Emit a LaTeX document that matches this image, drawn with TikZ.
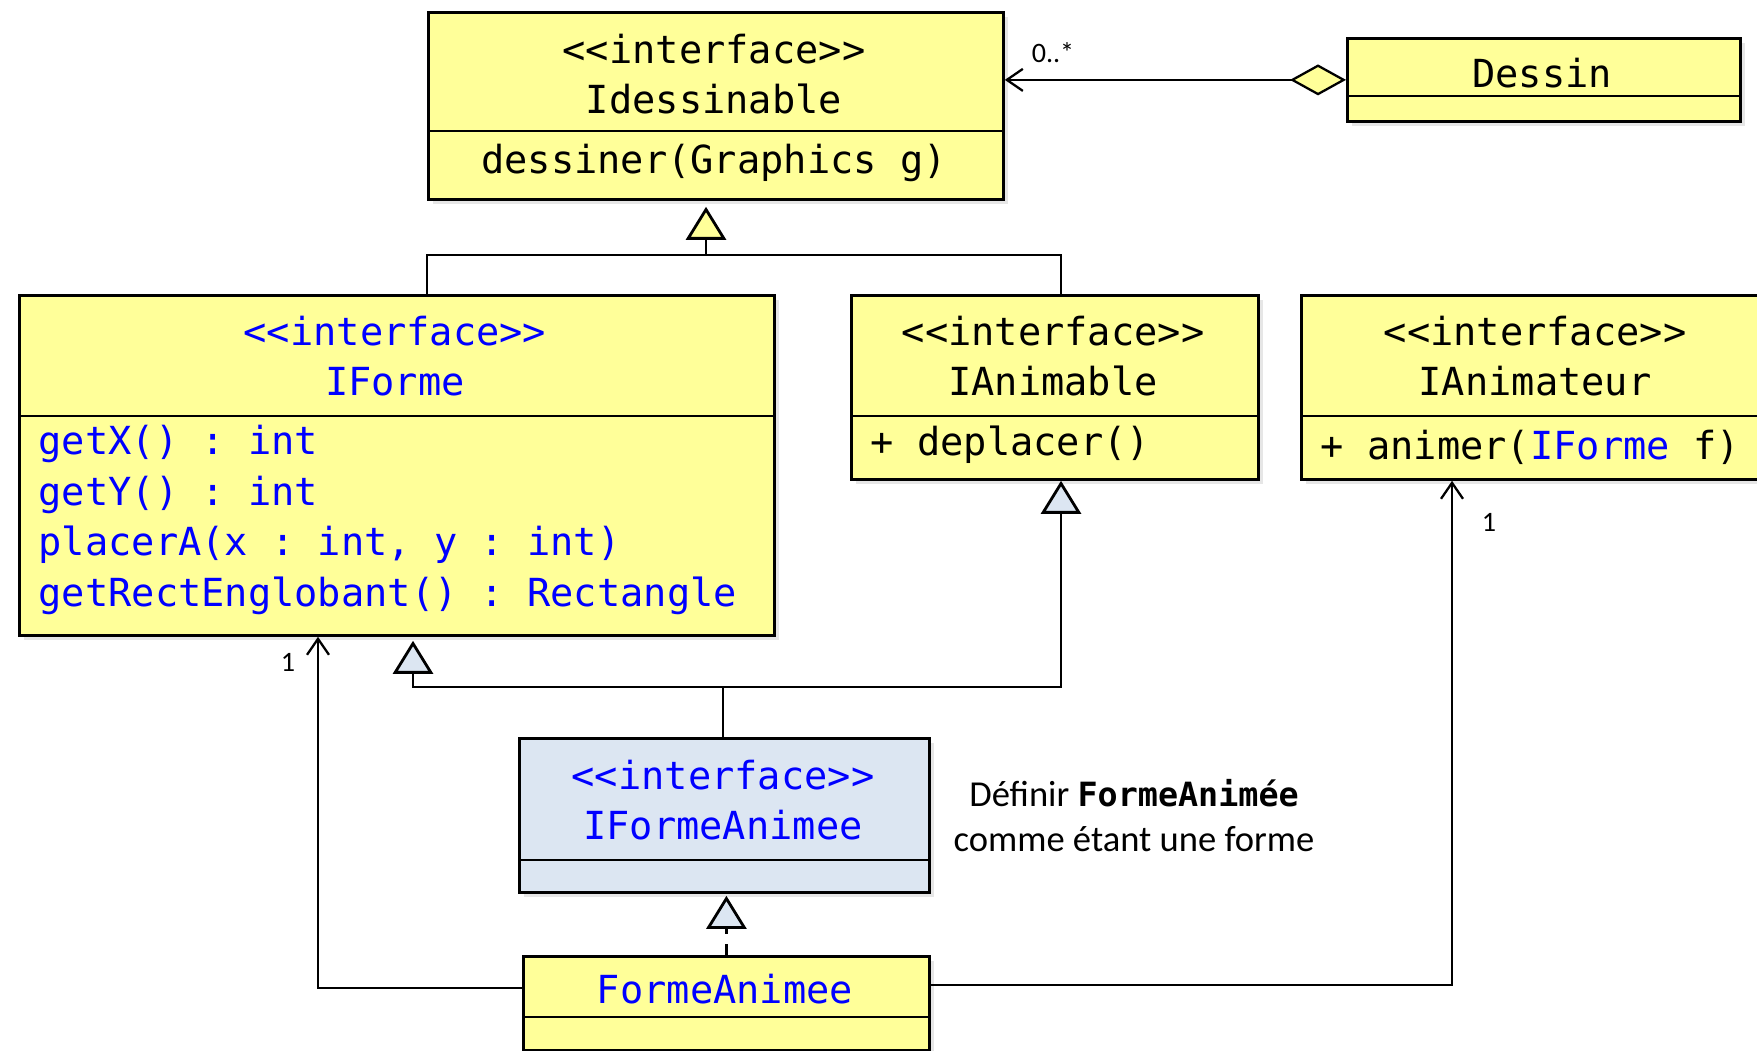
\documentclass[tikz,border=0pt]{standalone}
\usepackage{fontspec}
\setmainfont{Carlito}
\setmonofont{DejaVu Sans Mono}
\usetikzlibrary{arrows.meta,shadows}
\definecolor{jaune}{RGB}{255,255,153}
\definecolor{bleuclair}{RGB}{220,230,242}
\tikzset{
    classe/.style={draw, line width=0.8pt, fill=jaune, anchor=north west, inner sep=0pt,
        drop shadow={opacity=0.2, shadow xshift=0.5mm, shadow yshift=-0.5mm}},
    separe/.style={line width=0.8pt},
    code/.style={font=\fontsize{11}{14.4}\selectfont\ttfamily, inner sep=0pt},
    entete/.style={code, align=center},
    lien/.style={line width=0.65pt},
    herite/.style={lien, -{Triangle[length=3.3mm, width=4mm, line width=0.8pt, fill=#1]}},
    herite/.default=bleuclair,
    assoc/.style={lien, -{Straight Barb[length=1.6mm, width=2.2mm]}},
    agreg/.style={lien, {Diamond[fill=jaune, length=5.6mm, width=3.1mm]}-{Straight Barb[length=1.6mm, width=2.2mm]}},
    mult/.style={font=\fontsize{8}{9}\selectfont, inner sep=0pt},
    remarque/.style={align=center, font=\fontsize{10.4}{12.8}\selectfont, inner sep=0pt}
}
\begin{document}
\begin{tikzpicture}[x=0.1mm, y=-0.1mm]
        \useasboundingbox (0,0) rectangle (1757,1051);
        % Interface Idessinable
        \node[classe, minimum width=57.5mm, minimum height=18.7mm] (idess) at (427,11) {};
        \draw[separe] (427,131) -- (1002,131);
        \node[entete] (idess-nom) at (714,74) {<<interface>>\\Idessinable};
        \node[code] (idess-op) at (714,163) {dessiner(Graphics g)};
        % Classe Dessin
        \node[classe, minimum width=39.3mm, minimum height=8.3mm] (dessin) at (1346,37) {};
        \draw[separe] (1346,96) -- (1739,96);
        \node[code] (dessin-nom) at (1542,73) {Dessin};
        % Interface IForme
        \node[classe, minimum width=75.5mm, minimum height=34mm] (iforme) at (18,294) {};
        \draw[separe] (18,416) -- (773,416);
        \node[entete, text=blue] (iforme-nom) at (395,356) {<<interface>>\\IForme};
        \node[code, text=blue, align=left, anchor=west] (iforme-op) at (38,520)
            {getX() : int\\getY() : int\\placerA(x : int, y : int)\\getRectEnglobant() : Rectangle};
        % Interface IAnimable
        \node[classe, minimum width=40.7mm, minimum height=18.4mm] (ianim) at (850,294) {};
        \draw[separe] (850,416) -- (1257,416);
        \node[entete] (ianim-nom) at (1053,356) {<<interface>>\\IAnimable};
        \node[code, anchor=west] (ianim-op) at (870,445) {+ deplacer()};
        % Interface IAnimateur
        \node[classe, minimum width=47mm, minimum height=18.4mm] (ianimr) at (1300,294) {};
        \draw[separe] (1300,416) -- (1770,416);
        \node[entete] (ianimr-nom) at (1535,356) {<<interface>>\\IAnimateur};
        \node[code, anchor=west] (ianimr-op) at (1320,447) {+ animer(\textcolor{blue}{IForme} f)};
        % Interface IFormeAnimee
        \node[classe, fill=bleuclair, minimum width=41mm, minimum height=15.4mm] (ifa) at (518,737) {};
        \draw[separe] (518,860) -- (928,860);
        \node[entete, text=blue] (ifa-nom) at (723,800) {<<interface>>\\IFormeAnimee};
        % Classe FormeAnimee
        \node[classe, minimum width=40.6mm, minimum height=9.4mm] (fa) at (522,955) {};
        \draw[separe] (522,1017) -- (928,1017);
        \node[code, text=blue] (fa-nom) at (725,989) {FormeAnimee};
        % Commentaire
        \node[remarque] (note) at (1134,816) {Définir {\fontsize{9.5}{12.8}\selectfont\ttfamily\bfseries FormeAnimée}\\comme étant une forme};
        % Points de jonction
        \coordinate (hautG) at (427,255);
        \coordinate (hautM) at (706,255);
        \coordinate (hautD) at (1061,255);
        \coordinate (basG) at (413,687);
        \coordinate (basM) at (723,687);
        \coordinate (basD) at (1061,687);
        \coordinate (assocG) at (318,988);
        \coordinate (assocD) at (1452,985);
        % Heritage vers Idessinable
        \draw[lien] (iforme.north -| hautG) |- (hautD) -- (ianim.north -| hautD);
        \draw[herite=jaune, shorten >=0.6mm] (hautM) -- (idess.south -| hautM);
        % Heritage de IFormeAnimee
        \draw[lien] (ifa.north -| basM) -- (basM);
        \draw[herite, shorten >=0.4mm] (basM) -| (iforme.south -| basG);
        \draw[herite] (basM) -| (ianim.south -| basD);
        % Realisation
        \draw[herite, dashed, shorten >=0.2mm] (fa.north) -- (fa.north |- ifa.south);
        % Associations
        \draw[agreg] (dessin.west) -- (idess.east |- dessin.west);
        \draw[assoc] (fa.west |- assocG) -| (iforme.south -| assocG);
        \draw[assoc] (fa.east |- assocD) -| (ianimr.south -| assocD);
        % Multiplicites
        \node[mult] (m-dessin) at (1053,53) {0..*};
        \node[mult] (m-forme) at (288,662) {1};
        \node[mult] (m-anim) at (1489,522) {1};
\end{tikzpicture}
\end{document}
